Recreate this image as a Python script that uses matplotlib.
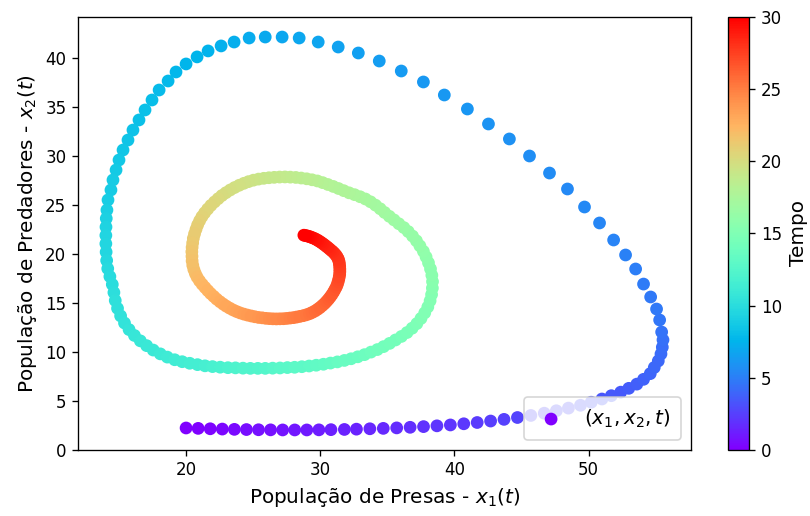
import numpy as np
import matplotlib.pyplot as plt

# instantes de tempo (passo de 0.1)
tempo = [
    0.0, 0.1, 0.2, 0.3, 0.4, 0.5, 0.6, 0.7, 0.8, 0.9,
    1.0, 1.1, 1.2, 1.3, 1.4, 1.5, 1.6, 1.7, 1.8, 1.9,
    2.0, 2.1, 2.2, 2.3, 2.4, 2.5, 2.6, 2.7, 2.8, 2.9,
    3.0, 3.1, 3.2, 3.3, 3.4, 3.5, 3.6, 3.7, 3.8, 3.9,
    4.0, 4.1, 4.2, 4.3, 4.4, 4.5, 4.6, 4.7, 4.8, 4.9,
    5.0, 5.1, 5.2, 5.3, 5.4, 5.5, 5.6, 5.7, 5.8, 5.9,
    6.0, 6.1, 6.2, 6.3, 6.4, 6.5, 6.6, 6.7, 6.8, 6.9,
    7.0, 7.1, 7.2, 7.3, 7.4, 7.5, 7.6, 7.7, 7.8, 7.9,
    8.0, 8.1, 8.2, 8.3, 8.4, 8.5, 8.6, 8.7, 8.8, 8.9,
    9.0, 9.1, 9.2, 9.3, 9.4, 9.5, 9.6, 9.7, 9.8, 9.9,
    10.0, 10.1, 10.2, 10.3, 10.4, 10.5, 10.6, 10.7, 10.8, 10.9,
    11.0, 11.1, 11.2, 11.3, 11.4, 11.5, 11.6, 11.7, 11.8, 11.9,
    12.0, 12.1, 12.2, 12.3, 12.4, 12.5, 12.6, 12.7, 12.8, 12.9,
    13.0, 13.1, 13.2, 13.3, 13.4, 13.5, 13.6, 13.7, 13.8, 13.9,
    14.0, 14.1, 14.2, 14.3, 14.4, 14.5, 14.6, 14.7, 14.8, 14.9,
    15.0, 15.1, 15.2, 15.3, 15.4, 15.5, 15.6, 15.7, 15.8, 15.9,
    16.0, 16.1, 16.2, 16.3, 16.4, 16.5, 16.6, 16.7, 16.8, 16.9,
    17.0, 17.1, 17.2, 17.3, 17.4, 17.5, 17.6, 17.7, 17.8, 17.9,
    18.0, 18.1, 18.2, 18.3, 18.4, 18.5, 18.6, 18.7, 18.8, 18.9,
    19.0, 19.1, 19.2, 19.3, 19.4, 19.5, 19.6, 19.7, 19.8, 19.9,
    20.0, 20.1, 20.2, 20.3, 20.4, 20.5, 20.6, 20.7, 20.8, 20.9,
    21.0, 21.1, 21.2, 21.3, 21.4, 21.5, 21.6, 21.7, 21.8, 21.9,
    22.0, 22.1, 22.2, 22.3, 22.4, 22.5, 22.6, 22.7, 22.8, 22.9,
    23.0, 23.1, 23.2, 23.3, 23.4, 23.5, 23.6, 23.7, 23.8, 23.9,
    24.0, 24.1, 24.2, 24.3, 24.4, 24.5, 24.6, 24.7, 24.8, 24.9,
    25.0, 25.1, 25.2, 25.3, 25.4, 25.5, 25.6, 25.7, 25.8, 25.9,
    26.0, 26.1, 26.2, 26.3, 26.4, 26.5, 26.6, 26.7, 26.8, 26.9,
    27.0, 27.1, 27.2, 27.3, 27.4, 27.5, 27.6, 27.7, 27.8, 27.9,
    28.0, 28.1, 28.2, 28.3, 28.4, 28.5, 28.6, 28.7, 28.8, 28.9,
    29.0, 29.1, 29.2, 29.3, 29.4, 29.5, 29.6, 29.7, 29.8, 29.9,
    30.0,
]

# populacao de presas x1(t)
presas = [
    20.0, 20.9, 21.8, 22.7, 23.6, 24.5, 25.4, 26.3, 27.2, 28.1,
    29.0, 29.9, 30.8, 31.8, 32.7, 33.7, 34.7, 35.7, 36.7, 37.7,
    38.7, 39.7, 40.7, 41.7, 42.7, 43.7, 44.7, 45.7, 46.7, 47.6,
    48.5, 49.4, 50.2, 51.0, 51.7, 52.4, 53.0, 53.6, 54.1, 54.6,
    54.9, 55.2, 55.4, 55.5, 55.55, 55.45, 55.30, 55.07, 54.63, 54.10,
    53.51, 52.76, 51.87, 50.82, 49.70, 48.43, 47.09, 45.60, 44.10, 42.54,
    40.97, 39.25, 37.69, 36.04, 34.40, 32.84, 31.34, 29.85, 28.43, 27.16,
    25.90, 24.70, 23.58, 22.61, 21.64, 20.82, 20.00, 19.25, 18.66, 17.99,
    17.46, 16.94, 16.49, 16.04, 15.67, 15.30, 15.00, 14.78, 14.55, 14.40,
    14.18, 14.10, 14.05, 14.03, 14.02, 14.02, 14.04, 14.08, 14.16, 14.32,
    14.50, 14.62, 14.72, 14.89, 15.12, 15.41, 15.75, 16.15, 16.59, 17.06,
    17.55, 18.08, 18.60, 19.15, 19.71, 20.27, 20.85, 21.41, 21.97, 22.54,
    23.12, 23.68, 24.24, 24.79, 25.35, 25.90, 26.45, 27.00, 27.55, 28.09,
    28.63, 29.17, 29.70, 30.24, 30.76, 31.28, 31.80, 32.30, 32.80, 33.30,
    33.78, 34.26, 34.72, 35.17, 35.61, 36.05, 36.47, 36.85, 37.20, 37.51,
    37.79, 38.02, 38.19, 38.30, 38.36, 38.37, 38.32, 38.22, 38.07, 37.89,
    37.69, 37.43, 37.17, 36.88, 36.56, 36.23, 35.86, 35.50, 35.15, 34.80,
    34.47, 34.12, 33.75, 33.37, 32.97, 32.56, 32.15, 31.75, 31.36, 30.97,
    30.57, 30.18, 29.79, 29.39, 28.99, 28.58, 28.18, 27.77, 27.37, 26.97,
    26.57, 26.18, 25.79, 25.40, 25.02, 24.65, 24.31, 23.96, 23.62, 23.29,
    22.97, 22.67, 22.39, 22.12, 21.85, 21.61, 21.38, 21.18, 21.01, 20.86,
    20.74, 20.63, 20.54, 20.49, 20.45, 20.43, 20.44, 20.45, 20.50, 20.58,
    20.69, 20.82, 21.00, 21.20, 21.41, 21.62, 21.83, 22.06, 22.28, 22.53,
    22.77, 23.00, 23.25, 23.51, 23.77, 24.03, 24.31, 24.58, 24.86, 25.13,
    25.40, 25.68, 25.94, 26.21, 26.47, 26.73, 26.99, 27.25, 27.50, 27.75,
    28.00, 28.24, 28.49, 28.73, 28.97, 29.20, 29.40, 29.61, 29.80, 29.98,
    30.16, 30.33, 30.48, 30.62, 30.75, 30.87, 30.99, 31.09, 31.19, 31.27,
    31.33, 31.38, 31.42, 31.45, 31.46, 31.46, 31.45, 31.43, 31.40, 31.35,
    31.27, 31.18, 31.07, 30.95, 30.82, 30.69, 30.56, 30.44, 30.31, 30.19,
    30.06, 29.93, 29.81, 29.68, 29.56, 29.42, 29.30, 29.17, 29.04, 28.91,
    28.78,
]

# populacao de predadores x2(t)
predadores = [
    2.20, 2.16, 2.12, 2.09, 2.06, 2.04, 2.02, 2.01, 2.00, 2.00,
    2.00, 2.01, 2.03, 2.05, 2.08, 2.12, 2.16, 2.21, 2.27, 2.34,
    2.42, 2.51, 2.63, 2.76, 2.91, 3.08, 3.27, 3.48, 3.71, 3.96,
    4.23, 4.52, 4.83, 5.16, 5.50, 5.86, 6.25, 6.68, 7.17, 7.75,
    8.38, 9.05, 9.76, 10.45, 11.20, 12.00, 13.23, 14.35, 15.58, 16.90,
    18.44, 19.87, 21.40, 23.14, 24.77, 26.61, 28.24, 29.98, 31.72, 33.25,
    34.78, 36.21, 37.54, 38.66, 39.68, 40.50, 41.11, 41.62, 42.03, 42.13,
    42.13, 42.03, 41.62, 41.22, 40.71, 40.10, 39.38, 38.56, 37.64, 36.72,
    35.70, 34.68, 33.66, 32.63, 31.61, 30.59, 29.57, 28.55, 27.53, 26.51,
    25.49, 24.46, 23.60, 22.73, 21.87, 21.02, 20.17, 19.31, 18.48, 17.67,
    16.86, 16.04, 15.22, 14.42, 13.65, 12.92, 12.25, 11.65, 11.10, 10.61,
    10.16, 9.77, 9.44, 9.17, 8.97, 8.81, 8.67, 8.55, 8.47, 8.41,
    8.36, 8.34, 8.31, 8.29, 8.29, 8.29, 8.31, 8.33, 8.37, 8.40,
    8.46, 8.53, 8.61, 8.71, 8.83, 8.95, 9.10, 9.27, 9.47, 9.69,
    9.95, 10.21, 10.51, 10.84, 11.19, 11.55, 11.95, 12.39, 12.86, 13.39,
    13.96, 14.56, 15.19, 15.83, 16.49, 17.15, 17.80, 18.45, 19.07, 19.67,
    20.24, 20.80, 21.32, 21.80, 22.26, 22.67, 23.06, 23.45, 23.82, 24.21,
    24.59, 24.96, 25.30, 25.59, 25.82, 26.03, 26.22, 26.44, 26.66, 26.87,
    27.07, 27.26, 27.43, 27.55, 27.65, 27.73, 27.79, 27.82, 27.84, 27.83,
    27.80, 27.76, 27.70, 27.62, 27.51, 27.36, 27.19, 26.99, 26.76, 26.51,
    26.23, 25.94, 25.62, 25.29, 24.93, 24.56, 24.17, 23.78, 23.37, 22.94,
    22.49, 22.03, 21.57, 21.10, 20.65, 20.20, 19.74, 19.27, 18.81, 18.38,
    17.98, 17.61, 17.23, 16.88, 16.55, 16.23, 15.93, 15.64, 15.36, 15.09,
    14.85, 14.64, 14.44, 14.25, 14.09, 13.95, 13.83, 13.73, 13.64, 13.56,
    13.49, 13.45, 13.40, 13.37, 13.35, 13.34, 13.35, 13.36, 13.39, 13.43,
    13.47, 13.53, 13.60, 13.67, 13.76, 13.87, 14.00, 14.15, 14.32, 14.50,
    14.71, 14.92, 15.14, 15.36, 15.59, 15.82, 16.08, 16.33, 16.59, 16.85,
    17.12, 17.38, 17.64, 17.90, 18.17, 18.43, 18.70, 18.96, 19.20, 19.44,
    19.65, 19.84, 20.02, 20.19, 20.34, 20.49, 20.64, 20.77, 20.91, 21.03,
    21.16, 21.27, 21.38, 21.47, 21.56, 21.63, 21.70, 21.76, 21.81, 21.85,
    21.89,
]

fig = plt.figure(figsize=(6.75, 4.3), dpi=120)
ax = fig.add_axes([0.0963, 0.1287, 0.7566, 0.8376])
cax = fig.add_axes([0.899, 0.1287, 0.026, 0.8376])

# trajetoria no plano de fase, colorida pelo tempo
sc = ax.scatter(presas, predadores, c=tempo, cmap='rainbow', s=44,
                label='$(x_1, x_2, t)$')
ax.set_xlabel('População de Presas - $x_1(t)$', fontsize=12)
ax.set_ylabel('População de Predadores - $x_2(t)$', fontsize=12)
ax.legend(loc='lower right', fontsize=12, borderpad=0.5, handlelength=1.7)

cb = fig.colorbar(sc, cax=cax)
cb.set_label('Tempo', fontsize=12)

fig.savefig('out.png', dpi=120)
